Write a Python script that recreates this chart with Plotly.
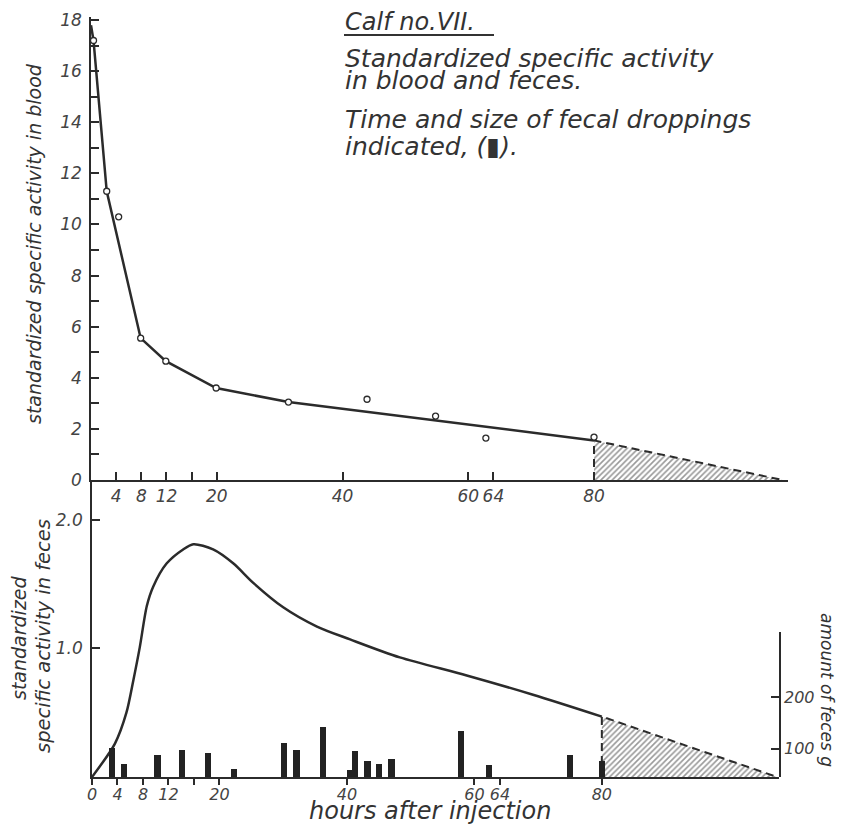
import plotly.graph_objects as go

# ---------------- data ----------------
# blood: fitted curve (hours, standardized specific activity)
blood_line_hours = [0, 0.4, 2.5, 7.9, 11.9, 19.9, 31.4, 80]
blood_line_vals = [17.8, 17.2, 11.3, 5.55, 4.65, 3.6, 3.05, 1.55]
# blood: measured points
blood_pt_hours = [0.4, 2.5, 4.4, 7.9, 11.9, 19.9, 31.4, 43.9, 54.8, 62.8, 80]
blood_pt_vals = [17.2, 11.3, 10.3, 5.55, 4.65, 3.6, 3.05, 3.16, 2.5, 1.64, 1.68]
# blood: extrapolated tail
blood_tail_hours = [80, 80, 110]
blood_tail_vals = [0, 1.55, 0]

# feces: standardized specific activity curve
feces_curve_hours = [0, 3.6, 5.4, 6.5, 7.5, 8.6, 9.6, 11.7, 14.3, 15.9, 19, 22.2,
                     25.3, 30, 35.3, 40.5, 48.3, 58.8, 69.2, 80]
feces_curve_vals = [0, 0.26, 0.5, 0.755, 1.01, 1.33, 1.48, 1.66, 1.77, 1.81, 1.77, 1.66,
                    1.51, 1.32, 1.17, 1.07, 0.93, 0.79, 0.64, 0.47]
feces_tail_hours = [80, 80, 107.5]
feces_tail_vals = [0, 0.47, 0]

# fecal droppings (time, amount g)
dropping_hours = [3.1, 5.0, 10.3, 14.1, 18.2, 22.3, 30.1, 32.1, 36.2, 40.5, 41.3,
                  43.2, 45.0, 47.0, 57.9, 62.3, 75.0, 80.0]
dropping_grams = [102, 71, 88, 98, 92, 61, 112, 98, 143, 59, 96, 76, 71, 80, 135,
                  69, 88, 76]

top_xtick_vals = [4, 8, 12, 16, 20, 40, 60, 64, 80]
top_xtick_text = ["4", "8", "12", "", "20", "40", "60", "64", "80"]
bot_xtick_vals = [0, 4, 8, 12, 16, 20, 40, 60, 64, 80]
bot_xtick_text = ["0", "4", "8", "12", "", "20", "40", "60", "64", "80"]
top_ytick_vals = list(range(0, 19))
top_ytick_text = [str(v) if v % 2 == 0 else "" for v in top_ytick_vals]
bot_ytick_vals = [1.0, 2.0]
bot_ytick_text = ["1.0", "2.0"]
right_ytick_vals = [100, 200]
right_ytick_text = ["100", "200"]

# ---------------- figure ----------------
# the page body has an 8px margin, so the figure is drawn 8px in from the corner
OFF = 8
W, H = 845 - 2 * OFF, 833 - 2 * OFF
INK = "#2b2b2b"
FONT = "DejaVu Sans"


def px(x):
    return (x - OFF) / W


def py(y):
    return 1 - (y - OFF) / H


fig = go.Figure()

hatch = dict(shape="/", fgcolor="#333", bgcolor="white", size=4, solidity=0.4)

# top panel
fig.add_trace(go.Scatter(x=blood_tail_hours, y=blood_tail_vals, xaxis="x", yaxis="y",
                         mode="lines", fill="toself", fillcolor="rgba(0,0,0,0)",
                         fillpattern=hatch,
                         line=dict(color=INK, width=2, dash="8px,5px"),
                         hoverinfo="skip", showlegend=False))
fig.add_trace(go.Scatter(x=blood_line_hours, y=blood_line_vals, xaxis="x", yaxis="y",
                         mode="lines", line=dict(color=INK, width=2.5),
                         showlegend=False))
fig.add_trace(go.Scatter(x=blood_pt_hours, y=blood_pt_vals, xaxis="x", yaxis="y",
                         mode="markers",
                         marker=dict(symbol="circle", size=6, color="white",
                                     line=dict(color=INK, width=1.3)),
                         showlegend=False))

# bottom panel
fig.add_trace(go.Scatter(x=feces_tail_hours, y=feces_tail_vals, xaxis="x2", yaxis="y2",
                         mode="lines", fill="toself", fillcolor="rgba(0,0,0,0)",
                         fillpattern=hatch,
                         line=dict(color=INK, width=2, dash="8px,5px"),
                         hoverinfo="skip", showlegend=False))
fig.add_trace(go.Scatter(x=feces_curve_hours, y=feces_curve_vals, xaxis="x2", yaxis="y2",
                         mode="lines", line=dict(color=INK, width=2.5, shape="spline",
                                                 smoothing=0.8),
                         showlegend=False))
fig.add_trace(go.Bar(x=dropping_hours, y=dropping_grams, xaxis="x2", yaxis="y3",
                     width=1.0, marker=dict(color="#222", line=dict(width=0)),
                     showlegend=False))

tickfont = dict(family=FONT, size=17, color="#444", style="italic")
tickfont_b = dict(family=FONT, size=16, color="#444", style="italic")
tickfont_r = dict(family=FONT, size=16, color="#444", style="italic")

axis_common = dict(showgrid=False, zeroline=False, showline=True, linecolor=INK,
                   linewidth=1.6, tickcolor=INK, tickwidth=1.5, automargin=False)

fig.update_layout(
    width=W, height=H, margin=dict(l=0, r=0, t=0, b=0, pad=0),
    paper_bgcolor="white", plot_bgcolor="rgba(0,0,0,0)", bargap=0,
    xaxis=dict(domain=[px(91), px(788)], range=[0, 110.85], anchor="y",
               tickmode="array", tickvals=top_xtick_vals, ticktext=top_xtick_text,
               ticks="inside", ticklen=8, tickfont=tickfont, **axis_common),
    yaxis=dict(domain=[py(480), py(17)], range=[0, 18.12], anchor="x",
               tickmode="array", tickvals=top_ytick_vals, ticktext=top_ytick_text,
               ticks="inside", ticklen=8, tickfont=tickfont, ticklabelstandoff=4,
               **axis_common),
    xaxis2=dict(domain=[px(92), px(779)], range=[0, 107.8], anchor="y2",
                tickmode="array", tickvals=bot_xtick_vals, ticktext=bot_xtick_text,
                ticks="outside", ticklen=6, tickfont=tickfont_b, ticklabelstandoff=-4,
                **axis_common),
    yaxis2=dict(domain=[py(777), py(480)], range=[0, 2.31], anchor="x2",
                tickmode="array", tickvals=bot_ytick_vals, ticktext=bot_ytick_text,
                ticks="inside", ticklen=8, tickfont=tickfont, ticklabelstandoff=4,
                **axis_common),
    yaxis3=dict(domain=[py(777), py(632)], range=[45, 327], anchor="x2", side="right",
                tickmode="array", tickvals=right_ytick_vals, ticktext=right_ytick_text,
                ticks="inside", ticklen=8, tickfont=tickfont_r, **axis_common),
)

ann = []


def add_text(text, x, y, size, angle=0, xanchor="left", yanchor="middle"):
    f = dict(family=FONT, size=size, color="#333", style="italic")
    ann.append(dict(text=text, x=px(x), y=py(y), xref="paper", yref="paper",
                    showarrow=False, xanchor=xanchor, yanchor=yanchor, textangle=angle,
                    font=f))


add_text("Calf no.VII.", 343, 22, 24)
add_text("Standardized specific activity", 343, 58, 25)
add_text("in blood and feces.", 343, 81, 25)
add_text("Time and size of fecal droppings", 343, 119, 25)
add_text("indicated, (\u25AE).", 343, 146, 25)

add_text("standardized specific activity in blood", 34, 244, 19, angle=-90,
         xanchor="center")
add_text("standardized", 19, 638, 19, angle=-90, xanchor="center")
add_text("specific activity in feces", 43, 636, 19.5, angle=-90, xanchor="center")
add_text("amount of feces g", 827, 690, 17, angle=90, xanchor="center")
add_text("hours after injection", 430, 811, 24, xanchor="center")

fig.update_layout(annotations=ann)

fig.add_shape(type="line", xref="paper", yref="paper", x0=px(344), x1=px(494),
              y0=py(35), y1=py(35), line=dict(color="#333", width=2))

fig.write_html("out.html")
